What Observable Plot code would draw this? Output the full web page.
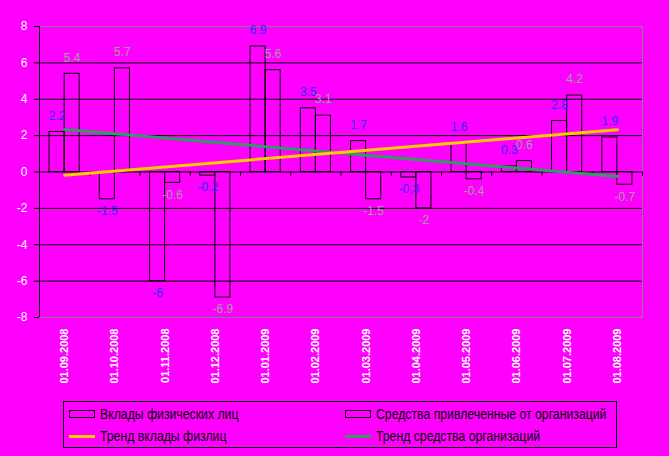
<!DOCTYPE html>
<html>
<head>
<meta charset="utf-8">
<script src="https://cdn.jsdelivr.net/npm/d3@7"></script>
<script src="https://cdn.jsdelivr.net/npm/@observablehq/plot@0.6"></script>
<style>
  html, body { margin: 0; padding: 0; background: #ff00ff; }
  body { position: relative; width: 669px; height: 456px; overflow: hidden; font-family: "Liberation Sans", Arial, sans-serif; }
  #chart svg { display: block; }
  #legend { position: absolute; left: 63px; top: 401px; width: 552px; height: 45px; border: 1px solid black; box-sizing: content-box;
    font-family: "Liberation Sans", Arial, sans-serif; font-size: 14px; color: black; }
  .item { position: absolute; display: flex; align-items: center; height: 16px; white-space: nowrap; }
  .item .t { display: inline-block; transform: scaleX(0.875); transform-origin: left center; }
  .sw-box { width: 24px; height: 6px; border: 1px solid black; margin-right: 5px; }
  .sw-line { width: 26px; height: 3px; margin-right: 5px; }
</style>
</head>
<body>
<div id="chart"></div>
<div id="legend">
  <div class="item" style="left:5px;top:4px"><span class="sw-box"></span><span class="t">Вклады физических лиц</span></div>
  <div class="item" style="left:281px;top:4px"><span class="sw-box"></span><span class="t">Средства привлеченные от организаций</span></div>
  <div class="item" style="left:5px;top:26px"><span class="sw-line" style="background:#ffcc00"></span><span class="t">Тренд вклады физлиц</span></div>
  <div class="item" style="left:281px;top:26px"><span class="sw-line" style="background:#339966"></span><span class="t">Тренд средства организаций</span></div>
</div>
<script>
const dates = ["01.09.2008","01.10.2008","01.11.2008","01.12.2008","01.01.2009","01.02.2009",
               "01.03.2009","01.04.2009","01.05.2009","01.06.2009","01.07.2009","01.08.2009"];
const deposits = [2.2, -1.5, -6, -0.2, 6.9, 3.5, 1.7, -0.3, 1.6, 0.3, 2.8, 1.9];
const funds    = [5.4, 5.7, -0.6, -6.9, 5.6, 3.1, -1.5, -2, -0.4, 0.6, 4.2, -0.7];
const yTicks = [-8, -6, -4, -2, 0, 2, 4, 6, 8];
const gridValues = [-6, -4, -2, 2, 4, 6];

const labelColors = ["#2a2aff", "#a0a0a0"];
const rows = dates.flatMap((d, i) => [
  {i, s: 0, v: deposits[i]},
  {i, s: 1, v: funds[i]}
]);
const depRows = deposits.map((v, i) => ({i, v}));
const fundRows = funds.map((v, i) => ({i, v}));
const catIdx = d3.range(dates.length);
const boundaries = d3.range(dates.length + 1).map(k => k - 0.5);
const barW = 0.3;

const chart = Plot.plot({
  width: 669,
  height: 400,
  marginTop: 26,
  marginBottom: 83,
  marginLeft: 39,
  marginRight: 27,
  style: {background: "transparent", fontFamily: "'Liberation Sans', Arial, sans-serif", overflow: "visible"},
  x: {type: "linear", domain: [-0.5, dates.length - 0.5], axis: null},
  y: {type: "linear", domain: [-8, 8], axis: null},
  marks: [
    Plot.ruleY(gridValues, {stroke: "black", strokeWidth: 1}),
    Plot.frame({stroke: "#808080", strokeWidth: 1}),
    Plot.rectY(rows, {
      x1: d => d.i + (d.s ? 0 : -barW),
      x2: d => d.i + (d.s ? barW : 0),
      y1: 0, y2: "v",
      fill: "none", stroke: "black", strokeWidth: 1, inset: 0
    }),
    Plot.ruleY([0], {stroke: "black", strokeWidth: 1}),
    Plot.ruleX(boundaries, {x: d => d, y1: 0, y2: -0.24, stroke: "black", strokeWidth: 1}),
    Plot.ruleX([-0.5], {stroke: "black", strokeWidth: 1}),
    Plot.axisY({ticks: yTicks, tickSize: 5, tickPadding: 7, tickFormat: d => String(d), label: null,
      stroke: "black", fill: "white", fontSize: 12}),
    Plot.linearRegressionY(fundRows, {x: "i", y: "v", stroke: "#339966", strokeWidth: 3, ci: 0}),
    Plot.linearRegressionY(depRows, {x: "i", y: "v", stroke: "#ffcc00", strokeWidth: 3, ci: 0}),
    Plot.text(rows.filter(d => d.v >= 0), {
      x: d => d.i + (d.s ? barW / 2 : -barW / 2), y: "v", text: d => String(d.v),
      fill: d => labelColors[d.s], dy: -16, fontSize: 12
    }),
    Plot.text(rows.filter(d => d.v < 0), {
      x: d => d.i + (d.s ? barW / 2 : -barW / 2), y: "v", text: d => String(d.v),
      fill: d => labelColors[d.s], dy: 12, fontSize: 12
    }),
    Plot.axisX({ticks: catIdx, tickFormat: i => dates[i], tickRotate: -90, tickSize: 0, tickPadding: 11, label: null,
      fill: "white", fontWeight: "bold", fontSize: 11, anchor: "bottom"})
  ]
});
document.getElementById("chart").appendChild(chart);
</script>
</body>
</html>
